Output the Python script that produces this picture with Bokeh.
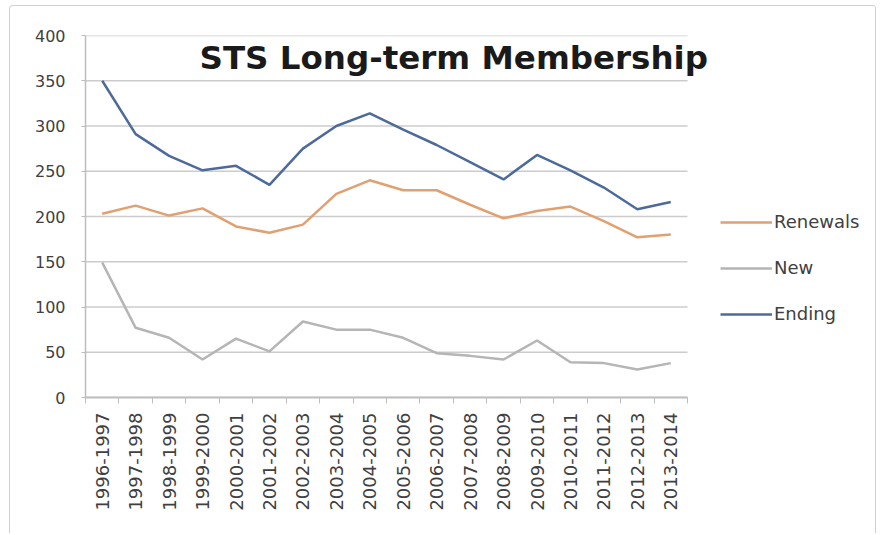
from bokeh.plotting import figure
from bokeh.models import Range1d, Label, Legend, LegendItem, FixedTicker
from bokeh.embed import file_html
from bokeh.resources import INLINE
import math

categories = ["1996-1997", "1997-1998", "1998-1999", "1999-2000", "2000-2001", "2001-2002",
              "2002-2003", "2003-2004", "2004-2005", "2005-2006", "2006-2007", "2007-2008",
              "2008-2009", "2009-2010", "2010-2011", "2011-2012", "2012-2013", "2013-2014"]
renewals = [203, 212, 201, 209, 189, 182, 191, 225, 240, 229, 229, 213, 198, 206, 211, 195, 177, 180]
new = [149, 77, 66, 42, 65, 51, 84, 75, 75, 66, 49, 46, 42, 63, 39, 38, 31, 38]
ending = [350, 291, 267, 251, 256, 235, 275, 300, 314, 296, 279, 260, 241, 268, 251, 232, 208, 216]
y_ticks = [0, 50, 100, 150, 200, 250, 300, 350, 400]
series_names = ["Renewals", "New", "Ending"]
series_colors = ["#e0a070", "#b5b5b5", "#4d6b9a"]
title_text = "STS Long-term Membership"

n = len(categories)
xs = list(range(n))
W, H = 867, 528
LEFT, TOP, FRAME_H = 75, 29, 362
unit_px = 602 / n
frame_w = W - LEFT
x_end = -0.5 + frame_w / unit_px

p = figure(width=W, height=H, x_range=Range1d(-0.5, x_end),
           y_range=Range1d(0, 400), output_backend="svg", toolbar_location=None,
           min_border_left=LEFT, min_border_right=0, min_border_top=TOP,
           min_border_bottom=H - TOP - FRAME_H)
p.styles = {"border": "1px solid #d0d0d0", "border-bottom": "none",
            "border-radius": "4px 4px 0 0",
            "margin-left": "9px", "margin-top": "5px"}
p.outline_line_color = None
p.background_fill_color = "white"

p.yaxis.ticker = FixedTicker(ticks=y_ticks)
p.yaxis.axis_line_color = "#bdbdbd"
p.yaxis.axis_line_width = 1.5
p.yaxis.major_tick_line_color = "#bdbdbd"
p.yaxis.major_tick_out = 4
p.yaxis.major_tick_in = 0
p.yaxis.minor_tick_line_color = None
p.yaxis.major_label_standoff = 16
p.yaxis.major_label_text_font = "DejaVu Sans"
p.yaxis.major_label_text_font_size = "16px"
p.yaxis.major_label_text_color = "#404040"

p.xaxis.ticker = FixedTicker(ticks=xs, minor_ticks=[i - 0.5 for i in range(n + 1)])
p.xaxis.major_label_overrides = {i: c for i, c in enumerate(categories)}
p.xaxis.bounds = (-0.5, n - 0.5)
p.xaxis.axis_line_color = "#bdbdbd"
p.xaxis.axis_line_width = 2
p.xaxis.major_tick_line_color = None
p.xaxis.major_tick_out = 6
p.xaxis.major_tick_in = 0
p.xaxis.minor_tick_line_color = "#bdbdbd"
p.xaxis.minor_tick_out = 6
p.xaxis.minor_tick_in = 0
p.xaxis.major_label_standoff = 9
p.xaxis.major_label_orientation = math.pi / 2
p.xaxis.major_label_text_font = "DejaVu Sans"
p.xaxis.major_label_text_font_size = "18px"
p.xaxis.major_label_text_color = "#404040"

p.xgrid.grid_line_color = None
p.ygrid.grid_line_color = None
p.segment(x0=[-0.5] * len(y_ticks), x1=[n - 0.5] * len(y_ticks), y0=y_ticks, y1=y_ticks,
          line_color="#cccccc", line_width=1.5)

renderers = []
for vals, color in zip([renewals, new, ending], series_colors):
    r = p.line(xs, vals, line_color=color, line_width=2.5)
    renderers.append(r)

legend = Legend(items=[LegendItem(label=nm, renderers=[r]) for nm, r in zip(series_names, renderers)],
                location=(635, 73), orientation="vertical", glyph_width=52, glyph_height=20,
                label_height=20, spacing=25, label_standoff=2, padding=0, margin=0,
                border_line_color=None, background_fill_alpha=0,
                label_text_font="DejaVu Sans", label_text_font_size="18px",
                label_text_color="#404040")
p.add_layout(legend)

title = Label(x=114, y=340, x_units="screen", y_units="screen", text=title_text,
              text_font="DejaVu Sans", text_font_style="bold", text_font_size="32.5px",
              text_color="#1a1a1a", text_baseline="alphabetic", text_align="left")
p.add_layout(title)

open("out.html", "w").write(file_html(p, INLINE))
